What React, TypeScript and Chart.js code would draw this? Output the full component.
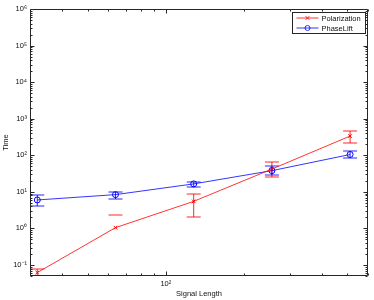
import React, { useEffect, useRef } from 'react';
import { Chart, registerables } from 'chart.js';

Chart.register(...registerables);

// ---- data ----
const signalLength = [32, 64, 128, 256, 512];

const polarizationTime = [0.062, 1.05, 5.5, 42, 335];
const polarizationUpper = [0.08, 2.4, 9.0, 64, 460];
const polarizationLower: (number | null)[] = [0.0505, null, 2.0, 26, 212];

const phaseLiftTime = [6.0, 8.4, 16.5, 38, 105];
const phaseLiftUpper = [8.2, 9.7, 19, 50, 133];
const phaseLiftLower = [4.0, 6.4, 13.6, 29, 82];

const xMajorTicks = [100];
const xTickLabels = ['10²'];
const yMajorTicks = [0.1, 1, 10, 100, 1000, 10000, 100000, 1000000];
const yTickLabels = ['10⁻¹', '10⁰', '10¹', '10²', '10³', '10⁴', '10⁵', '10⁶'];

const X_MIN = 30;
const X_MAX = 600;
const Y_MIN = 0.05;
const Y_MAX = 1e6;

const RED = 'rgb(255,0,0)';
const BLUE = 'rgb(0,0,255)';
const AXIS = '#262626';
const FONT = '"Liberation Sans", Arial, Helvetica, sans-serif';

function logTicks(min: number, max: number): number[] {
  const out: number[] = [];
  for (let e = Math.floor(Math.log10(min)); e <= Math.ceil(Math.log10(max)); e++) {
    for (let m = 1; m <= 9; m++) {
      const v = m * Math.pow(10, e);
      if (v >= min * 0.9999 && v <= max * 1.0001) out.push(v);
    }
  }
  return out;
}

function isSame(a: number, b: number) {
  return Math.abs(Math.log10(a) - Math.log10(b)) < 1e-6;
}

const errorBarPlugin = {
  id: 'errorBars',
  beforeDatasetsDraw(chart: any) {
    const { ctx, chartArea, scales } = chart;
    const xs = scales.x;
    const ys = scales.y;
    const sets = [
      { color: 'rgba(255,0,0,0.85)', upper: polarizationUpper, lower: polarizationLower },
      { color: 'rgba(0,0,255,0.85)', upper: phaseLiftUpper, lower: phaseLiftLower },
    ];
    ctx.save();
    ctx.beginPath();
    ctx.rect(chartArea.left, chartArea.top, chartArea.right - chartArea.left, chartArea.bottom - chartArea.top);
    ctx.clip();
    ctx.lineWidth = 1;
    const half = 7;
    sets.forEach((s) => {
      ctx.strokeStyle = s.color;
      signalLength.forEach((xv, i) => {
        const px = xs.getPixelForValue(xv);
        const up = s.upper[i];
        const lo = s.lower[i];
        const pu = Math.round(ys.getPixelForValue(up));
        ctx.beginPath();
        ctx.moveTo(px - half, pu);
        ctx.lineTo(px + half, pu);
        if (lo !== null && lo !== undefined) {
          const pl = Math.round(ys.getPixelForValue(lo));
          ctx.moveTo(px, pu);
          ctx.lineTo(px, pl);
          ctx.moveTo(px - half, pl);
          ctx.lineTo(px + half, pl);
        }
        ctx.stroke();
      });
    });
    ctx.restore();
  },
};

const frameLegendPlugin = {
  id: 'frameLegend',
  afterDraw(chart: any) {
    const { ctx, chartArea, scales } = chart;
    const { left, right, top, bottom } = chartArea;
    ctx.save();
    ctx.strokeStyle = AXIS;
    ctx.lineWidth = 1;
    const L = Math.round(left) + 0.5;
    const R = Math.round(right) - 0.5;
    const T = Math.round(top) + 0.5;
    const B = Math.round(bottom) - 0.5;
    ctx.beginPath();
    ctx.rect(L, T, R - L, B - T);
    ctx.stroke();
    // ticks
    ctx.beginPath();
    scales.y.ticks.forEach((t: any) => {
      const major = yMajorTicks.some((m) => isSame(m, t.value));
      const len = major ? 4 : 2;
      const py = Math.round(scales.y.getPixelForValue(t.value)) + 0.5;
      ctx.moveTo(L, py);
      ctx.lineTo(L + len, py);
      ctx.moveTo(R, py);
      ctx.lineTo(R - len, py);
    });
    scales.x.ticks.forEach((t: any) => {
      const major = xMajorTicks.some((m) => isSame(m, t.value));
      const len = major ? 4 : 2;
      const px = Math.round(scales.x.getPixelForValue(t.value)) + 0.5;
      ctx.moveTo(px, B);
      ctx.lineTo(px, B - len);
      ctx.moveTo(px, T);
      ctx.lineTo(px, T + len);
    });
    ctx.stroke();

    // legend
    const bx0 = Math.round(right) - 75.5;
    const bx1 = Math.round(right) - 2.5;
    const by0 = Math.round(top) + 3.5;
    const by1 = by0 + 21;
    ctx.fillStyle = '#fff';
    ctx.fillRect(bx0, by0, bx1 - bx0, by1 - by0);
    ctx.strokeStyle = AXIS;
    ctx.strokeRect(bx0, by0, bx1 - bx0, by1 - by0);
    ctx.font = `7.5px ${FONT}`;
    ctx.textBaseline = 'middle';
    ctx.textAlign = 'left';
    chart.data.datasets.forEach((ds: any, i: number) => {
      const y = by0 + 5.5 + i * 10;
      const lx0 = bx0 + 4;
      const lx1 = bx0 + 26;
      const mx = (lx0 + lx1) / 2;
      ctx.strokeStyle = ds.borderColor;
      ctx.lineWidth = 0.8;
      ctx.beginPath();
      ctx.moveTo(lx0, y);
      ctx.lineTo(lx1, y);
      ctx.stroke();
      ctx.beginPath();
      if (ds.pointStyle === 'crossRot') {
        ctx.moveTo(mx - 2, y - 2);
        ctx.lineTo(mx + 2, y + 2);
        ctx.moveTo(mx - 2, y + 2);
        ctx.lineTo(mx + 2, y - 2);
      } else {
        ctx.arc(mx, y, 2.5, 0, Math.PI * 2);
      }
      ctx.stroke();
      ctx.fillStyle = '#111';
      ctx.fillText(ds.label, lx1 + 3, y + 0.5);
    });
    ctx.restore();
  },
};

export default function App() {
  const ref = useRef<HTMLCanvasElement | null>(null);

  useEffect(() => {
    if (!ref.current) return;
    const chart = new Chart(ref.current, {
      type: 'line',
      data: {
        datasets: [
          {
            label: 'Polarization',
            data: signalLength.map((x, i) => ({ x, y: polarizationTime[i] })),
            borderColor: RED,
            backgroundColor: RED,
            borderWidth: 0.8,
            pointStyle: 'crossRot',
            pointRadius: 2.5,
            pointBorderWidth: 1,
            pointBorderColor: RED,
            fill: false,
            tension: 0,
          },
          {
            label: 'PhaseLift',
            data: signalLength.map((x, i) => ({ x, y: phaseLiftTime[i] })),
            borderColor: BLUE,
            backgroundColor: 'rgba(0,0,0,0)',
            borderWidth: 0.8,
            pointStyle: 'circle',
            pointRadius: 3,
            pointBorderWidth: 1,
            pointBorderColor: BLUE,
            pointBackgroundColor: 'rgba(0,0,0,0)',
            fill: false,
            tension: 0,
          },
        ],
      },
      options: {
        animation: false,
        responsive: false,
        devicePixelRatio: 1,
        layout: { padding: { top: 9, right: 6, left: 0, bottom: 0 } },
        plugins: {
          legend: { display: false },
          tooltip: { enabled: false },
        },
        scales: {
          x: {
            type: 'logarithmic',
            min: X_MIN,
            max: X_MAX,
            bounds: 'data',
            grid: { display: false, drawTicks: false, tickLength: 0 },
            border: { display: false },
            afterBuildTicks: (scale: any) => {
              scale.ticks = logTicks(X_MIN, X_MAX).map((v) => ({ value: v }));
            },
            afterFit: (scale: any) => {
              scale.height = 24;
            },
            ticks: {
              autoSkip: false,
              maxRotation: 0,
              minRotation: 0,
              padding: 3,
              color: '#111',
              font: { size: 7.5, family: FONT },
              callback: (v: any) => {
                const i = xMajorTicks.findIndex((m) => isSame(m, Number(v)));
                return i >= 0 ? xTickLabels[i] : '';
              },
            },
            title: {
              display: true,
              text: 'Signal Length',
              color: '#111',
              font: { size: 7.5, family: FONT },
              padding: { top: 0, bottom: 2 },
            },
          },
          y: {
            type: 'logarithmic',
            min: Y_MIN,
            max: Y_MAX,
            bounds: 'data',
            grid: { display: false, drawTicks: false, tickLength: 0 },
            border: { display: false },
            afterBuildTicks: (scale: any) => {
              scale.ticks = logTicks(Y_MIN, Y_MAX).map((v) => ({ value: v }));
            },
            afterFit: (scale: any) => {
              scale.width = 30;
            },
            ticks: {
              autoSkip: false,
              padding: 3,
              color: '#111',
              font: { size: 7.5, family: FONT },
              callback: (v: any) => {
                const i = yMajorTicks.findIndex((m) => isSame(m, Number(v)));
                return i >= 0 ? yTickLabels[i] : '';
              },
            },
            title: {
              display: true,
              text: 'Time',
              color: '#111',
              font: { size: 7.5, family: FONT },
              padding: { top: 1.5, bottom: 0 },
            },
          },
        },
      },
      plugins: [errorBarPlugin, frameLegendPlugin],
    } as any);
    return () => chart.destroy();
  }, []);

  return (
    <div style={{ position: 'fixed', left: 0, top: 0, width: 374, height: 300, background: '#fff' }}>
      <canvas ref={ref} width={374} height={300} style={{ display: 'block' }} />
    </div>
  );
}
